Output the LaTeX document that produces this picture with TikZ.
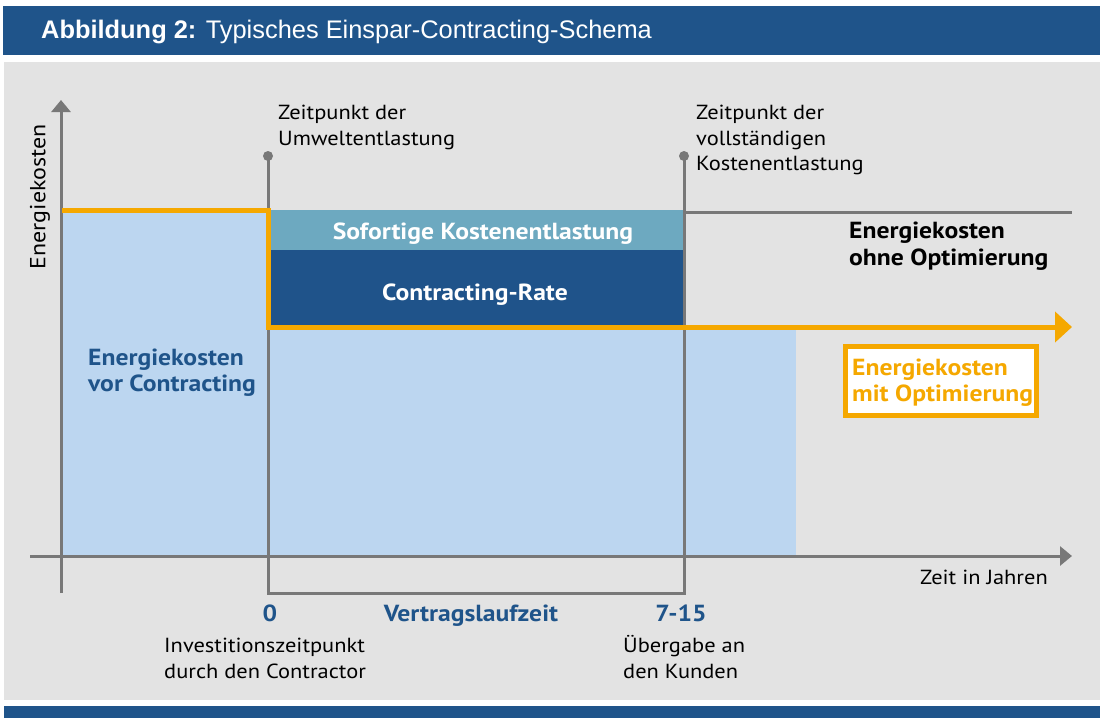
\documentclass[tikz,border=0pt]{standalone}
\usepackage{fontspec}
\setmainfont[FakeStretch=1.1]{PT Sans}
\newfontfamily\headfont{Liberation Sans}
\usetikzlibrary{arrows.meta}
\definecolor{hblue}{HTML}{1F548A}
\definecolor{panel}{HTML}{E3E3E3}
\definecolor{lblue}{HTML}{BCD6F0}
\definecolor{teal}{HTML}{6DA9C0}
\definecolor{dblue}{HTML}{1F538A}
\definecolor{orng}{HTML}{F5A800}
\definecolor{axgray}{HTML}{787878}
\tikzset{
  axis/.style={draw=axgray,line width=3pt},
  lbl/.style={inner sep=0pt,anchor=north west,align=left,font=\fontsize{20.4}{25.5}\selectfont,text=black},
  blbl/.style={inner sep=0pt,font=\bfseries\fontsize{23.3}{26.7}\selectfont},
  dotc/.style={fill=axgray,circle,inner sep=0pt,minimum size=10pt},
}
\begin{document}
\begin{tikzpicture}[x=1pt,y=-1pt]
\useasboundingbox (0,0) rectangle (1100,718);
\fill[white] (0,0) rectangle (1100,718);
\fill[hblue] (3,6) rectangle (1100,55);
\fill[panel] (4,62) rectangle (1100,700);
\fill[hblue] (4,706) rectangle (1100,718);
\node[anchor=base west,inner sep=0pt,text=white,font=\headfont\fontsize{25.4}{30}\selectfont] (title) at (41,38.5) {\textbf{Abbildung 2:} Typisches Einspar-Contracting-Schema};
% areas
\fill[lblue] (62,210) rectangle (268,556);
\fill[lblue] (268,325) rectangle (796,556);
\fill[teal] (268,210) rectangle (684,250);
\fill[dblue] (268,250) rectangle (684,325);
% axes
\coordinate (yb) at (61,593);
\coordinate (yt) at (61,100);
\coordinate (xl) at (30,556);
\coordinate (xr) at (1072,556);
\draw[axis,-{Triangle[length=12pt,width=19pt]}] (yb) -- (yt);
\draw[axis,-{Triangle[length=12pt,width=19pt]}] (xl) -- (xr);
% markers
\node[dotc] (d1) at (268,156) {};
\node[dotc] (d2) at (684,156) {};
\coordinate (b1) at (268,593);
\coordinate (b2) at (684,593);
\draw[axis] (d1.center) -- (b1) -- (b2) -- (d2.center);
\coordinate (g1) at (684,212);
\coordinate (g2) at (1072,212);
\draw[axis] (g1) -- (g2);
% orange line
\coordinate (o0) at (62,210.5);
\coordinate (o1) at (268.5,210.5);
\coordinate (o2) at (268.5,327);
\coordinate (o3) at (1072,327);
\draw[orng,line width=5pt,-{Triangle[length=17pt,width=30pt]}] (o0) -- (o1) -- (o2) -- (o3);
% box labels
\node[blbl,text=white,anchor=base] (sofort) at (483,239.3) {Sofortige Kostenentlastung};
\node[blbl,text=white,anchor=base] (rate) at (475,300) {Contracting-Rate};
% orange box
\node[draw=orng,line width=5pt,fill=white,minimum width=191pt,minimum height=69pt,inner sep=0pt] (mitbox) at (941,381) {};
\node[blbl,text=orng,anchor=north west,align=left] (mit) at (852,356.3) {\strut Energiekosten\\mit Optimierung};
\node[blbl,text=black,anchor=north west,align=left] (ohne) at (849,219.6) {\strut Energiekosten\\ohne Optimierung};
\node[blbl,text=hblue,anchor=north west,align=left] (vor) at (88,346.3) {\strut Energiekosten\\vor Contracting};
% axis labels
\node[lbl,anchor=center,rotate=90,font=\fontsize{21.8}{25}\selectfont] (ylab) at (40,197) {Energiekosten};
\node[lbl,anchor=base east] (xlab) at (1048,584) {Zeit in Jahren};
% top labels
\node[lbl] (uml) at (278,101.5) {\strut Zeitpunkt der\\Umweltentlastung};
\node[lbl] (kosl) at (696,101.5) {\strut Zeitpunkt der\\vollständigen\\Kostenentlastung};
% bottom labels
\node[blbl,text=hblue,anchor=base] (null) at (270,621.7) {0};
\node[blbl,text=hblue,anchor=base] (vlz) at (471,621.7) {Vertragslaufzeit};
\node[blbl,text=hblue,anchor=base] (jahre) at (681,621.7) {7-15};
\node[lbl] (inv) at (164,634.5) {\strut Investitionszeitpunkt\\durch den Contractor};
\node[lbl] (ueb) at (623,634.5) {\strut Übergabe an\\den Kunden};
\end{tikzpicture}
\end{document}
